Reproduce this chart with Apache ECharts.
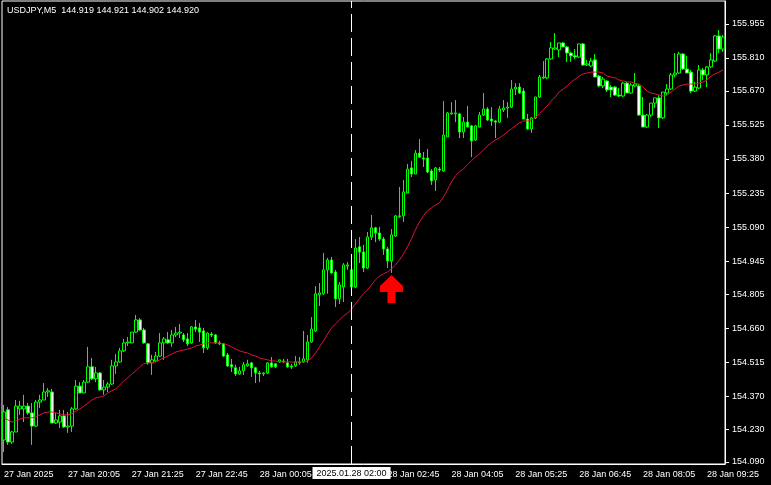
<!DOCTYPE html>
<html>
<head>
<meta charset="utf-8">
<script src="https://cdn.jsdelivr.net/npm/echarts@6/dist/echarts.min.js"></script>
<style>
  html, body { margin: 0; padding: 0; background: #000; }
  #chart { width: 771px; height: 485px; }
</style>
</head>
<body>
<div id="chart"></div>
<script>
// USDJPY M5, 27 Jan 18:45 -> 28 Jan 09:45
const openVals = [154.184,154.312,154.175,154.218,154.316,154.316,154.328,154.299,154.243,154.345,154.354,154.388,154.388,154.256,154.260,154.286,154.239,154.243,154.316,154.413,154.384,154.430,154.495,154.444,154.469,154.397,154.409,154.422,154.499,154.516,154.563,154.597,154.597,154.643,154.695,154.652,154.593,154.512,154.520,154.541,154.597,154.610,154.597,154.631,154.639,154.631,154.614,154.597,154.665,154.661,154.648,154.576,154.635,154.631,154.597,154.593,154.546,154.504,154.491,154.465,154.478,154.499,154.512,154.491,154.469,154.465,154.469,154.512,154.508,154.516,154.516,154.512,154.499,154.499,154.512,154.516,154.525,154.601,154.648,154.802,154.806,154.908,154.950,154.899,154.785,154.835,154.924,154.908,154.835,155.006,154.984,154.916,155.048,155.087,155.065,155.039,154.997,154.946,155.052,155.134,155.138,155.235,155.342,155.316,155.405,155.384,155.384,155.329,155.291,155.337,155.329,155.474,155.572,155.572,155.572,155.495,155.537,155.521,155.461,155.516,155.567,155.593,155.550,155.542,155.537,155.589,155.597,155.601,155.678,155.686,155.669,155.550,155.508,155.555,155.644,155.725,155.725,155.806,155.848,155.844,155.874,155.857,155.831,155.819,155.814,155.870,155.780,155.776,155.802,155.733,155.691,155.712,155.686,155.686,155.652,155.648,155.703,155.661,155.691,155.691,155.567,155.516,155.567,155.618,155.640,155.555,155.661,155.678,155.738,155.746,155.827,155.763,155.750,155.669,155.682,155.759,155.738,155.772,155.797,155.904,155.848];
const closeVals = [154.303,154.175,154.218,154.328,154.328,154.328,154.299,154.243,154.345,154.354,154.388,154.393,154.256,154.269,154.286,154.239,154.243,154.316,154.413,154.384,154.430,154.495,154.444,154.469,154.397,154.409,154.422,154.499,154.516,154.563,154.597,154.601,154.643,154.695,154.652,154.597,154.512,154.525,154.541,154.597,154.614,154.597,154.631,154.639,154.643,154.610,154.593,154.665,154.656,154.643,154.576,154.639,154.631,154.597,154.593,154.541,154.499,154.495,154.465,154.478,154.504,154.508,154.491,154.469,154.465,154.469,154.512,154.495,154.495,154.525,154.520,154.495,154.495,154.516,154.516,154.529,154.601,154.656,154.806,154.810,154.908,154.950,154.895,154.785,154.844,154.929,154.929,154.835,155.001,154.984,154.916,155.048,155.087,155.065,155.039,154.997,154.946,155.057,155.138,155.138,155.240,155.337,155.316,155.405,155.388,155.380,155.325,155.287,155.342,155.333,155.482,155.576,155.576,155.576,155.495,155.537,155.516,155.457,155.521,155.567,155.593,155.546,155.542,155.537,155.593,155.597,155.601,155.678,155.686,155.661,155.550,155.508,155.555,155.644,155.729,155.729,155.806,155.853,155.853,155.874,155.857,155.831,155.819,155.814,155.870,155.780,155.785,155.797,155.729,155.691,155.720,155.674,155.674,155.652,155.648,155.703,155.661,155.695,155.699,155.567,155.516,155.567,155.618,155.640,155.555,155.665,155.678,155.738,155.746,155.827,155.763,155.746,155.669,155.686,155.759,155.738,155.772,155.802,155.904,155.848,155.899];
const lowVals = [154.132,154.163,154.167,154.218,154.291,154.260,154.291,154.163,154.239,154.320,154.354,154.367,154.256,154.252,154.235,154.235,154.214,154.218,154.312,154.384,154.384,154.426,154.439,154.430,154.393,154.376,154.388,154.418,154.465,154.512,154.558,154.584,154.597,154.639,154.648,154.593,154.504,154.461,154.516,154.537,154.525,154.593,154.580,154.622,154.618,154.601,154.584,154.593,154.643,154.601,154.554,154.567,154.622,154.593,154.588,154.537,154.495,154.473,154.456,154.461,154.461,154.495,154.452,154.426,154.430,154.456,154.465,154.491,154.491,154.512,154.512,154.491,154.486,154.495,154.504,154.512,154.512,154.597,154.643,154.754,154.802,154.806,154.891,154.750,154.763,154.771,154.908,154.831,154.831,154.937,154.899,154.912,155.035,155.026,155.031,154.972,154.916,154.895,155.048,155.129,155.112,155.235,155.303,155.316,155.384,155.346,155.320,155.270,155.244,155.325,155.325,155.474,155.568,155.537,155.469,155.469,155.516,155.388,155.457,155.516,155.563,155.542,155.521,155.469,155.533,155.580,155.555,155.597,155.652,155.657,155.550,155.504,155.491,155.550,155.640,155.720,155.720,155.802,155.844,155.814,155.857,155.793,155.793,155.806,155.810,155.776,155.776,155.772,155.729,155.686,155.682,155.665,155.644,155.648,155.644,155.644,155.661,155.657,155.686,155.563,155.516,155.512,155.559,155.597,155.512,155.550,155.652,155.674,155.729,155.742,155.759,155.746,155.661,155.665,155.678,155.716,155.686,155.767,155.793,155.831,155.836];
const highVals = [154.333,154.324,154.223,154.354,154.350,154.376,154.341,154.341,154.354,154.376,154.426,154.405,154.401,154.299,154.312,154.312,154.303,154.324,154.439,154.430,154.439,154.580,154.533,154.495,154.473,154.439,154.430,154.525,154.550,154.576,154.614,154.622,154.643,154.716,154.703,154.661,154.597,154.546,154.558,154.639,154.622,154.643,154.652,154.665,154.678,154.639,154.639,154.669,154.695,154.682,154.661,154.643,154.643,154.635,154.606,154.597,154.554,154.529,154.504,154.495,154.516,154.525,154.516,154.495,154.478,154.473,154.516,154.537,154.512,154.525,154.529,154.529,154.508,154.541,154.537,154.648,154.631,154.707,154.839,154.852,154.980,154.959,154.963,154.908,154.856,154.937,154.941,154.920,155.039,155.048,155.014,155.069,155.142,155.091,155.091,155.048,155.006,155.082,155.142,155.261,155.291,155.359,155.372,155.418,155.465,155.410,155.423,155.337,155.346,155.346,155.627,155.580,155.622,155.631,155.576,155.559,155.606,155.525,155.525,155.580,155.661,155.601,155.601,155.546,155.606,155.631,155.622,155.716,155.703,155.703,155.682,155.572,155.559,155.644,155.738,155.797,155.810,155.878,155.916,155.874,155.878,155.861,155.836,155.848,155.870,155.874,155.802,155.810,155.827,155.738,155.729,155.716,155.695,155.691,155.682,155.708,155.708,155.703,155.746,155.699,155.644,155.572,155.618,155.640,155.652,155.665,155.699,155.746,155.831,155.836,155.831,155.819,155.759,155.708,155.780,155.767,155.776,155.831,155.908,155.929,155.908];
// moving average line
const maVals = [154.278,154.269,154.260,154.265,154.273,154.278,154.278,154.278,154.282,154.291,154.299,154.303,154.303,154.299,154.295,154.291,154.291,154.295,154.307,154.316,154.328,154.341,154.354,154.363,154.367,154.371,154.384,154.393,154.401,154.418,154.435,154.448,154.465,154.478,154.495,154.508,154.512,154.512,154.516,154.525,154.533,154.541,154.550,154.558,154.563,154.567,154.571,154.576,154.584,154.588,154.593,154.597,154.597,154.597,154.597,154.593,154.588,154.580,154.571,154.563,154.558,154.554,154.546,154.541,154.533,154.529,154.525,154.520,154.520,154.516,154.516,154.516,154.516,154.516,154.516,154.516,154.520,154.533,154.554,154.580,154.606,154.635,154.661,154.678,154.695,154.712,154.724,154.741,154.763,154.785,154.806,154.823,154.844,154.865,154.882,154.891,154.899,154.912,154.929,154.950,154.976,155.006,155.039,155.078,155.112,155.138,155.159,155.172,155.184,155.193,155.218,155.248,155.282,155.308,155.325,155.337,155.355,155.372,155.388,155.401,155.418,155.435,155.448,155.461,155.469,155.482,155.495,155.508,155.521,155.533,155.542,155.542,155.546,155.555,155.572,155.589,155.606,155.627,155.644,155.665,155.678,155.691,155.708,155.720,155.733,155.742,155.746,155.750,155.750,155.750,155.746,155.733,155.729,155.725,155.716,155.712,155.708,155.708,155.703,155.699,155.686,155.669,155.661,155.657,155.652,155.648,155.652,155.665,155.678,155.691,155.695,155.699,155.699,155.699,155.703,155.708,155.716,155.733,155.742,155.750,155.759];

const yTicks = [154.090,154.230,154.370,154.515,154.660,154.805,154.945,155.090,155.235,155.380,155.525,155.670,155.810,155.955];
const xTickLabels = ['27 Jan 2025','27 Jan 20:05','27 Jan 21:25','27 Jan 22:45','28 Jan 00:05','28 Jan 01:25','28 Jan 02:45','28 Jan 04:05','28 Jan 05:25','28 Jan 06:45','28 Jan 08:05','28 Jan 09:25'];
const markerIndex = 87;            // 2025.01.28 02:00
const markerLabel = '2025.01.28 02:00';
const arrowIndex = 97;             // buy arrow under this bar

// bar times as categories, 5 min apart from 27 Jan 18:45
const categories = [];
for (let i = 0; i < openVals.length; i++) {
  const m = 18 * 60 + 45 + i * 5;
  const day = m >= 1440 ? 28 : 27;
  const mm = m % 1440;
  categories.push(day + ' Jan ' + String(Math.floor(mm / 60)).padStart(2, '0') + ':' + String(mm % 60).padStart(2, '0'));
}

const candleData = openVals.map((o, i) => [o, closeVals[i], lowVals[i], highVals[i]]);
const arrowData = [[arrowIndex, lowVals[arrowIndex]]];

const font = 'Liberation Sans';
const chart = echarts.init(document.getElementById('chart'));

chart.setOption({
  backgroundColor: '#000',
  animation: false,
  title: {
    text: 'USDJPY,M5  144.919 144.921 144.902 144.920',
    left: 2,
    top: 1,
    textStyle: { color: '#fff', fontSize: 9, fontWeight: 'normal', fontFamily: font }
  },
  grid: {
    left: 2,
    right: 46,
    top: 1,
    bottom: 21,
    show: true,
    borderColor: '#fff',
    borderWidth: 1,
    backgroundColor: '#000'
  },
  xAxis: {
    type: 'category',
    data: categories,
    boundaryGap: true,
    axisLine: { lineStyle: { color: '#fff', width: 1 } },
    axisTick: { alignWithLabel: true, interval: 15, length: 4, lineStyle: { color: '#fff' } },
    axisLabel: {
      interval: 15,
      align: 'left',
      margin: 6,
      color: '#fff',
      fontSize: 9,
      fontFamily: font,
      formatter: (v, idx) => xTickLabels[Math.round(idx / 16)]
    },
    splitLine: { show: false }
  },
  yAxis: {
    type: 'value',
    position: 'right',
    scale: true,
    min: 154.0815,
    max: 156.0526,
    axisLine: { show: true, lineStyle: { color: '#fff', width: 1 } },
    axisTick: { show: true, length: 4, customValues: yTicks, lineStyle: { color: '#fff' } },
    axisLabel: {
      customValues: yTicks,
      margin: 7,
      color: '#fff',
      fontSize: 9,
      fontFamily: font,
      formatter: v => v.toFixed(3)
    },
    splitLine: { show: false }
  },
  series: [
    {
      name: 'USDJPY',
      type: 'candlestick',
      data: candleData,
      barWidth: 3,
      itemStyle: {
        color: '#000',
        color0: '#fff',
        borderColor: '#00ff00',
        borderColor0: '#00ff00',
        borderWidth: 1
      },
      markLine: {
        silent: true,
        symbol: ['none', 'none'],
        lineStyle: { color: '#fff', type: [18, 6], width: 1 },
        label: {
          show: true,
          position: 'start',
          distance: 3,
          formatter: markerLabel,
          color: '#000',
          backgroundColor: '#fff',
          padding: [2, 4, 1, 4],
          fontSize: 9,
          fontFamily: font
        },
        data: [{ xAxis: markerIndex }]
      },
      z: 2
    },
    {
      name: 'MA',
      type: 'line',
      data: maVals,
      showSymbol: false,
      lineStyle: { color: '#dc143c', width: 1 },
      z: 3
    },
    {
      name: 'arrow',
      type: 'scatter',
      data: arrowData,
      symbol: 'path://M11.5,0 L23,11 L23,17 L15.5,17 L15.5,28 L7.5,28 L7.5,17 L0,17 L0,11 Z',
      symbolSize: [23, 28],
      symbolOffset: [0, 16],
      itemStyle: { color: '#ff0000', opacity: 1 },
      z: 4
    }
  ]
});
</script>
</body>
</html>
